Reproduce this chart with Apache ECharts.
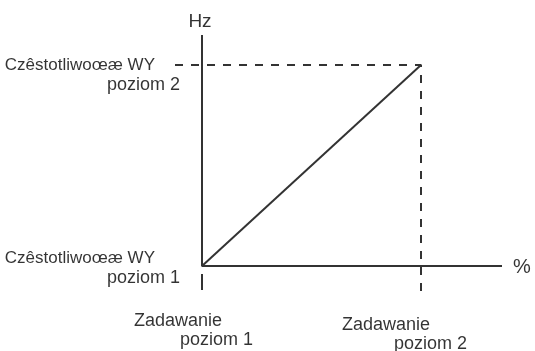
<!DOCTYPE html>
<html>
<head>
<meta charset="utf-8">
<script src="https://cdn.jsdelivr.net/npm/echarts@6/dist/echarts.min.js"></script>
<style>
  html, body { margin: 0; padding: 0; background: #fff; }
  #chart { width: 535px; height: 351px; }
</style>
</head>
<body>
<div id="chart"></div>
<script>
// levels (x in %, y in Hz, arbitrary scale 0..100)
const xLevels = [0, 73]
const yLevels = [0, 87]
const yLabelTop = ['Czêstotliwoœæ WY', 'Czêstotliwoœæ WY']
const yLabelBottom = ['poziom 1', 'poziom 2']
const xLabelTop = ['Zadawanie', 'Zadawanie']
const xLabelBottom = ['poziom 1', 'poziom 2']
const axisNames = ['Hz', '%']
const xMax = 100
const yMax = 100
const guideLeft = -9
const guideBottom = -11.3

// layout tweaks for the labels (not data)
const yLabelShift = [2, 10]
const xLabelPos = [[-68, 20], [-79, 24]]
const xLabelIndent = [46, 52]

const ink = '#333'
const txt = '#000'
const font = 'Arial, "Liberation Sans", sans-serif'
const fs = 18

const chart = echarts.init(document.getElementById('chart'))

const yLabelData = yLevels.map((v, i) => ({
  value: [0, v],
  label: {
    show: true,
    position: 'left',
    distance: 22,
    offset: [0, yLabelShift[i]],
    align: 'right',
    formatter: '{a|' + yLabelTop[i] + '}\n{b|' + yLabelBottom[i] + '}',
    rich: {
      a: { fontSize: 17, fontFamily: font, color: txt, lineHeight: 20, align: 'right', padding: [0, 25, 0, 0] },
      b: { fontSize: fs, fontFamily: font, color: txt, lineHeight: 20, align: 'right' }
    }
  }
}))

const xLabelData = xLevels.map((v, i) => ({
  value: [v, guideBottom],
  label: {
    show: true,
    position: xLabelPos[i],
    align: 'left',
    verticalAlign: 'top',
    formatter: '{a|' + xLabelTop[i] + '}\n{b|' + xLabelBottom[i] + '}',
    rich: {
      a: { fontSize: fs, fontFamily: font, color: txt, lineHeight: 19, align: 'left' },
      b: { fontSize: fs, fontFamily: font, color: txt, lineHeight: 19, align: 'left', padding: [0, 0, 0, xLabelIndent[i]] }
    }
  }
}))

const nameData = [
  { value: [0, yMax], label: { show: true, position: 'top', distance: 4, offset: [-2, 0], fontSize: 19, formatter: axisNames[0] } },
  { value: [xMax, 0], label: { show: true, position: 'right', distance: 11, offset: [0, 2], fontSize: 20, formatter: axisNames[1] } }
]

const lineStyle = { color: ink, width: 2 }

chart.setOption({
  animation: false,
  grid: { left: 175, right: 33, top: 35, bottom: 59 },
  xAxis: { type: 'value', min: guideLeft, max: xMax, show: false },
  yAxis: { type: 'value', min: guideBottom, max: yMax, show: false },
  series: [
    {
      // axes
      type: 'line', silent: true, symbol: 'none',
      lineStyle: lineStyle,
      data: [[0, yMax], [0, 0], [xMax, 0]]
    },
    {
      // characteristic
      type: 'line', silent: true, symbol: 'none',
      lineStyle: lineStyle,
      data: [[xLevels[0], yLevels[0]], [xLevels[1], yLevels[1]]]
    },
    {
      // dashed guides
      type: 'line', silent: true, symbol: 'none',
      lineStyle: { color: ink, width: 2, type: [8, 8] },
      data: [[guideLeft, yLevels[1]], [xLevels[1], yLevels[1]], [xLevels[1], guideBottom]]
    },
    {
      // short tick under origin
      type: 'line', silent: true, symbol: 'none',
      lineStyle: lineStyle,
      data: [[xLevels[0], -3.5], [xLevels[0], -10.4]]
    },
    {
      type: 'scatter', silent: true, symbolSize: 0,
      data: yLabelData
    },
    {
      type: 'scatter', silent: true, symbolSize: 0,
      data: xLabelData
    },
    {
      type: 'scatter', silent: true, symbolSize: 0,
      label: { fontFamily: font, color: txt },
      data: nameData
    }
  ]
})
</script>
</body>
</html>
